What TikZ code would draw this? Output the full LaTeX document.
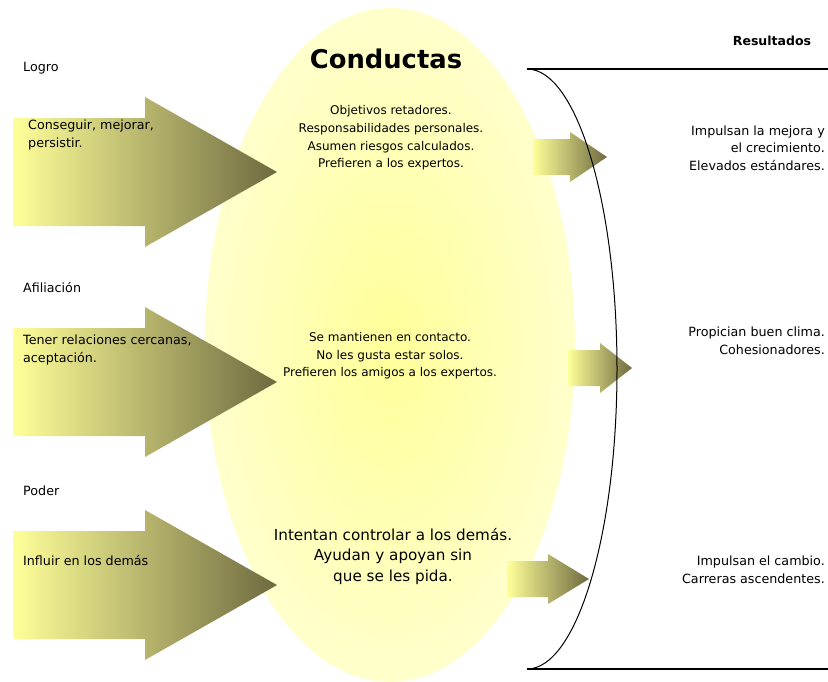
\documentclass[tikz,border=0pt]{standalone}
\usepackage{fontspec}
\setmainfont{DejaVu Sans}
\definecolor{arrowlight}{HTML}{FFFF99}
\definecolor{arrowdark}{HTML}{6E6A40}
\definecolor{ovalcore}{HTML}{FFFF99}
\definecolor{ovalrim}{HTML}{FFFFCC}
\tikzset{
  blockarrow/.style={shading=axis, left color=arrowlight, right color=arrowdark},
  txt/.style={inner sep=0pt, font=\fontsize{12.7}{17.5}\selectfont},
  ovaltxt/.style={inner sep=0pt, align=center, font=\fontsize{12}{17.6}\selectfont},
  restxt/.style={txt, align=right, anchor=east},
}
\begin{document}
\begin{tikzpicture}[x=1pt, y=-1pt]

  \useasboundingbox (0,0) rectangle (828,681);

  % shade the oval
  \shade[inner color=ovalcore, outer color=ovalrim] (390,345) ellipse [x radius=185, y radius=337];

  % big arrows
  \foreach \c in {172,382,585}
    \shade[blockarrow] (13,\c-54) -- (145,\c-54) -- (145,\c-75) -- (277,\c) -- (145,\c+75) -- (145,\c+54) -- (13,\c+54) -- cycle;

  % small arrows
  \foreach \s/\h/\t/\c in {533/570/607/157, 568/600/632/368, 507/548/589/579}
    \shade[blockarrow] (\s,\c-18) -- (\h,\c-18) -- (\h,\c-25) -- (\t,\c) -- (\h,\c+25) -- (\h,\c+18) -- (\s,\c+18) -- cycle;

  % bracket
  \draw[line width=1.3pt] (828,69) -- (527,69);
  \draw[line width=1.3pt] (527,669) -- (828,669);
  \draw[line width=1pt] (527,69) arc[start angle=-90, end angle=90, x radius=90, y radius=300];

  % left labels
  \node[txt, anchor=west] (logro) at (23,68) {Logro};
  \node[txt, anchor=west] (afil) at (23,288) {Afiliación};
  \node[txt, anchor=west] (poder) at (23,491) {Poder};
  \node[txt, anchor=west, align=left] (conseguir) at (28,135) {Conseguir, mejorar,\\persistir.};
  \node[txt, anchor=west, align=left] (tener) at (23,350) {Tener relaciones cercanas,\\aceptación.};
  \node[txt, anchor=west] (influir) at (23,561) {Influir en los demás};

  % oval texts
  \node[inner sep=0pt, font=\fontsize{25.8}{30}\selectfont\bfseries] (conductas) at (386,59) {Conductas};
  \node[ovaltxt] (logrotxt) at (391,138) {Objetivos retadores.\\Responsabilidades personales.\\Asumen riesgos calculados.\\Prefieren a los expertos.};
  \node[ovaltxt] (afiltxt) at (390,356) {Se mantienen en contacto.\\No les gusta estar solos.\\Prefieren los amigos a los expertos.};
  \node[ovaltxt, font=\fontsize{15.2}{20.5}\selectfont] (podertxt) at (393,556) {Intentan controlar a los demás.\\Ayudan y apoyan sin\\que se les pida.};

  % results
  \node[inner sep=0pt, font=\fontsize{12.5}{15}\selectfont\bfseries] (result) at (772,41) {Resultados};
  \node[restxt] (res1) at (825,148) {Impulsan la mejora y\\el crecimiento.\\Elevados estándares.};
  \node[restxt] (res2) at (825,341) {Propician buen clima.\\Cohesionadores.};
  \node[restxt] (res3) at (825,570) {Impulsan el cambio.\\Carreras ascendentes.};

\end{tikzpicture}
\end{document}
